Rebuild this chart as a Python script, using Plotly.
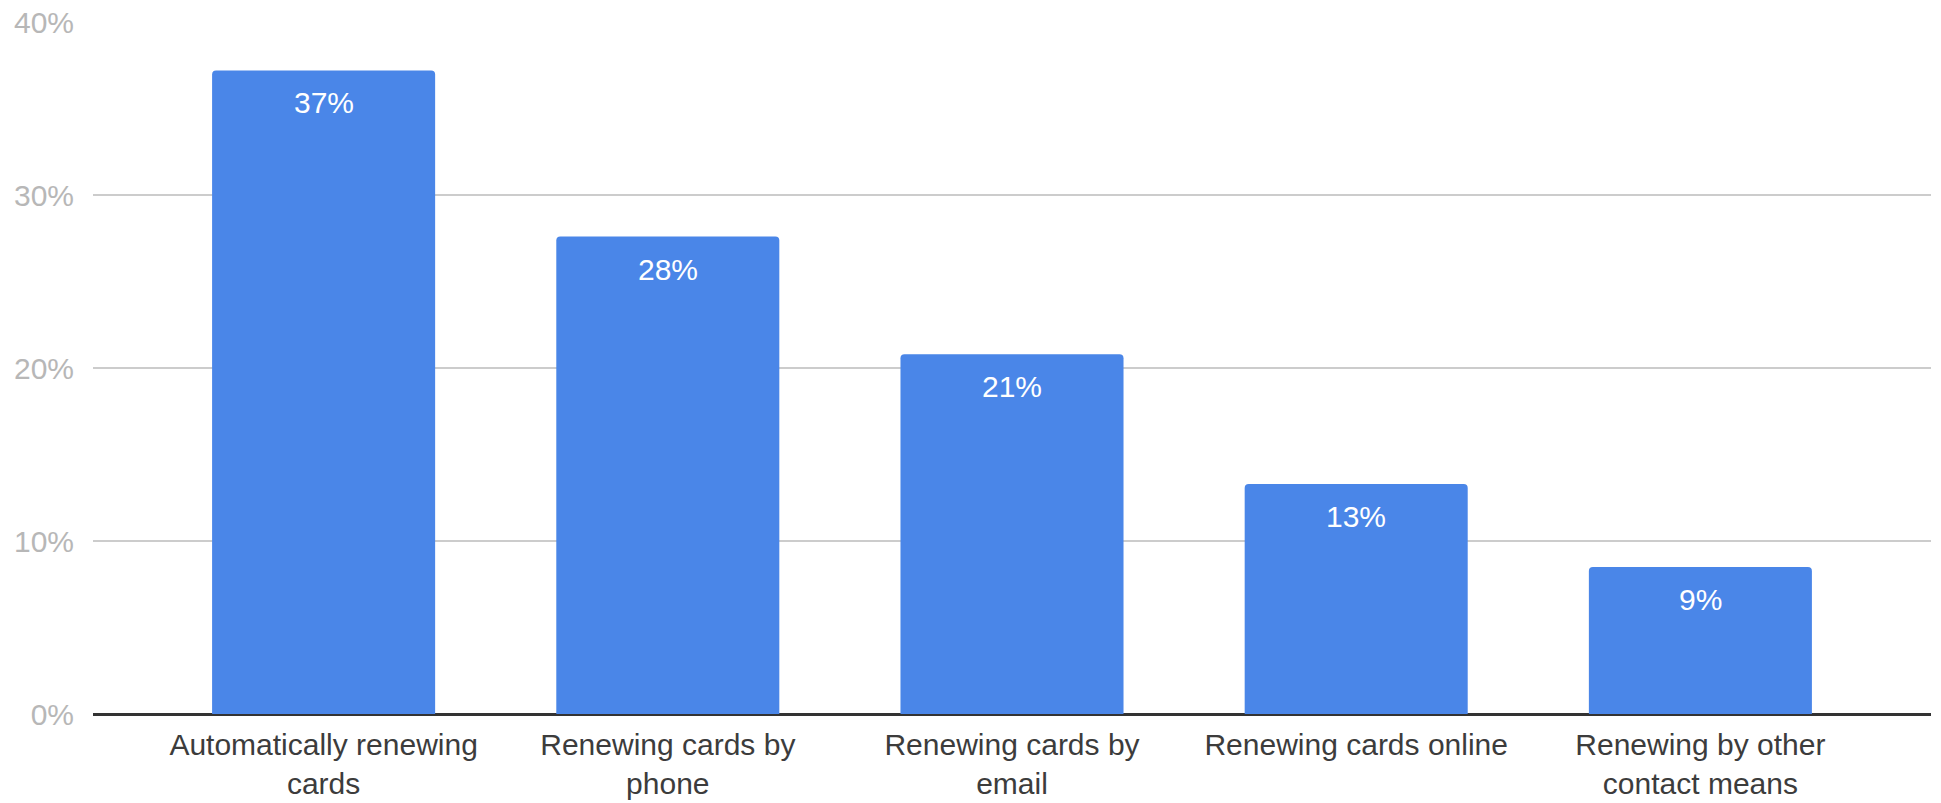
import plotly.graph_objects as go

categories = [
    "Automatically renewing<br>cards",
    "Renewing cards by<br>phone",
    "Renewing cards by<br>email",
    "Renewing cards online",
    "Renewing by other<br>contact means",
]
values = [37.2, 27.6, 20.8, 13.3, 8.5]
labels = ["37%", "28%", "21%", "13%", "9%"]
y_ticks = [0, 10, 20, 30, 40]
y_tick_text = ["0%", "10%", "20%", "30%", "40%"]

FONT = "Arial, Liberation Sans, sans-serif"

fig = go.Figure()
fig.add_trace(go.Bar(
    x=categories,
    y=values,
    marker=dict(color="#4a86e8", line=dict(width=0), cornerradius=4),
    hoverinfo="skip",
))

for c, v, t in zip(categories, values, labels):
    fig.add_annotation(
        x=c, y=v, text=t, showarrow=False,
        yanchor="top", yshift=-14,
        font=dict(family=FONT, size=30, color="#ffffff"),
    )

fig.update_layout(
    width=1941, height=803,
    margin=dict(l=93, r=10, t=22, b=89),
    paper_bgcolor="white", plot_bgcolor="white",
    bargap=0.352,
    showlegend=False,
    font=dict(family=FONT),
)
fig.update_xaxes(
    range=[-0.67, 4.67],
    automargin=False,
    showgrid=False,
    showline=False,
    ticks="",
    tickfont=dict(family=FONT, size=30, color="#3c3c3c"),
    ticklabelstandoff=10,
)
fig.update_yaxes(
    range=[0, 40],
    automargin=False,
    tickvals=y_ticks,
    ticktext=y_tick_text,
    showgrid=True, gridcolor="#cccccc", gridwidth=2,
    zeroline=True, zerolinecolor="#333333", zerolinewidth=3,
    showline=False,
    ticks="",
    tickfont=dict(family=FONT, size=30, color="#b7b7b7"),
    ticklabelstandoff=18,
)

fig.write_html(
    "out.html",
    config={"displayModeBar": False},
    post_script="document.body.style.margin='0';document.body.style.overflow='hidden';",
)
